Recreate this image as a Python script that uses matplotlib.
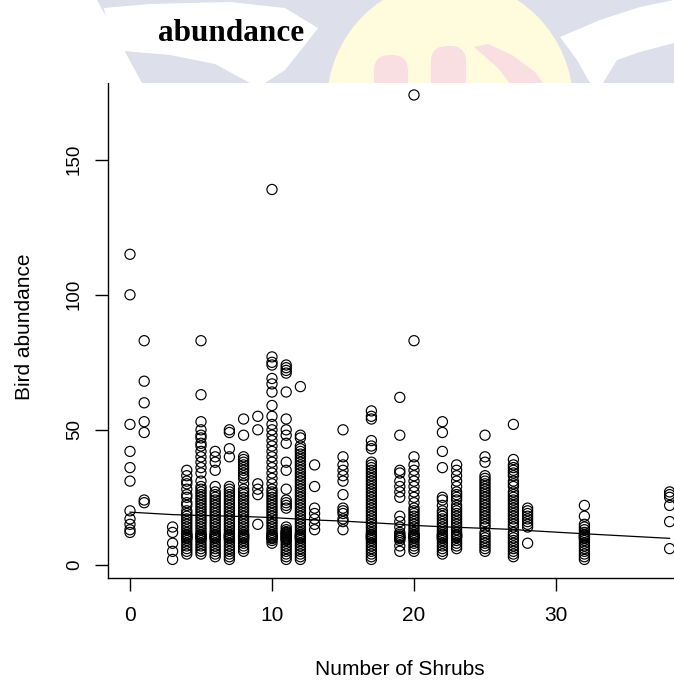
import matplotlib
matplotlib.use("Agg")
import matplotlib.pyplot as plt
from matplotlib import font_manager
from matplotlib.patches import Polygon, Circle, Rectangle, FancyBboxPatch

# jumlah semak (sumbu x) dan kelimpahan burung per kolom
shrub_levels = [0, 1, 3, 4, 5, 6, 7, 8, 9, 10, 11, 12, 13, 15, 17, 19, 20, 22, 23, 25, 27, 28, 32, 38]

ab_0 = [115, 100, 52, 42, 36, 31, 20, 17, 15, 13, 12]
ab_1 = [83, 68, 60, 53, 49, 24, 23]
ab_3 = [14, 12, 8, 5, 2]
ab_4 = [35, 33, 31, 30, 28, 26, 25, 23, 22, 20, 19, 18, 17, 16, 15, 14, 13, 12, 11.3, 11, 10.7, 10.3,
        10, 9.7, 9, 8, 7, 6, 5, 4]
ab_5 = [83, 63, 53, 50, 48, 47, 45, 44, 42, 40, 38, 36, 34, 31, 29, 28, 27, 26, 25, 24, 23, 22, 21, 20,
        19, 18, 17, 16, 15, 14, 13, 12, 11.3, 11, 10.7, 10.3, 10, 9.7, 9, 8, 7, 6, 5, 4]
ab_6 = [42, 40, 38, 35, 29, 27, 26, 25, 24, 23, 22, 21, 20, 19, 18, 17, 16, 15, 14, 13, 12, 11.3, 11,
        10.7, 10.3, 10, 9.7, 9, 8, 7, 6, 5, 4, 3]
ab_7 = [50, 49, 43, 40, 29, 28, 27, 26, 25, 24, 23, 22, 21, 20, 19, 18, 17, 16, 15, 14, 13, 12, 11.3, 11,
        10.7, 10.3, 10, 9.7, 9, 8, 7, 6, 5, 4, 3, 2]
ab_8 = [54, 48, 40, 39, 38, 37, 36, 35, 34, 33, 32, 30, 28, 27, 26, 25, 24, 23, 22, 21, 20, 19, 18, 17,
        16, 15, 14, 13, 12, 11.3, 11, 10.7, 10.3, 10, 9.7, 9, 8, 7, 6, 5]
ab_9 = [55, 50, 30, 28, 26, 15]
ab_10 = [139, 77, 75, 74, 69, 67, 64, 59, 55, 52, 50, 48, 46, 44, 42, 40, 38, 36, 34, 32, 30, 28, 27, 26,
         25, 24, 23, 22, 21, 20, 19, 18, 17, 16, 15, 14, 13, 12, 11.3, 11, 10.7, 10.3, 10, 9.7, 9, 8]
ab_11 = [74, 73, 72, 71, 64, 54, 50, 48, 45, 38, 35, 28, 24, 23, 22, 21, 14, 13, 12.3, 12, 11.7, 11.3, 11,
         10.7, 10.3, 10, 9.7, 9.3, 9, 8, 7, 6, 5, 4, 3, 2]
ab_12 = [66, 48, 47, 44, 43, 42, 41, 40, 39, 38, 37, 36, 35, 34, 33, 32, 31, 30, 29, 28, 27, 26, 25, 24,
         23, 22, 21, 20, 19, 18, 17, 16, 15, 14, 13, 12, 11.3, 11, 10.7, 10.3, 10, 9.7, 9, 8, 7, 6, 5, 4,
         3, 2]
ab_13 = [37, 29, 21, 19, 17, 15, 13]
ab_15 = [50, 40, 37, 35, 33, 31, 26, 21, 20, 19, 17, 16, 13]
ab_17 = [57, 55, 54, 46, 44, 43, 38, 37, 36, 35, 34, 33, 32, 31, 30, 29, 28, 27, 26, 25, 24, 23, 22, 21,
         20, 19, 18, 17, 16, 15, 14, 13, 12, 11.3, 11, 10.7, 10.3, 10, 9.7, 9, 8, 7, 6, 5, 4, 3, 2]
ab_19 = [62, 48, 35, 34, 31, 29, 27, 25, 18, 16, 14, 12, 11.3, 10.7, 10.3, 10, 9.7, 9, 7, 5]
ab_20 = [174, 83, 40, 37, 35, 33, 31, 29, 27, 25, 23, 21, 20, 19, 18, 17, 16, 15, 14, 13, 12, 11.3, 11,
         10.7, 10.3, 10, 9.7, 9, 8, 7, 6, 5]
ab_22 = [53, 49, 42, 36, 25, 24, 22, 20, 19, 18, 17, 16, 15, 14, 13, 12, 11.3, 11, 10.7, 10.3, 10, 9.7,
         9, 8, 7, 6, 5, 4]
ab_23 = [37, 35, 33, 31, 29, 27, 26, 25, 24, 22, 21, 20, 19, 18, 17, 16, 15, 14, 13, 12, 11.3, 11, 10.7,
         10.3, 10, 9, 8, 7, 6]
ab_25 = [48, 40, 38, 33, 32, 31, 30, 29, 28, 27, 26, 25, 24, 23, 22, 21, 20, 19, 18, 17, 16, 15, 14, 12,
         11, 10, 9, 8, 7, 6, 5]
ab_27 = [52, 39, 37, 36, 35, 34, 33, 31, 30, 29, 27, 26, 25, 24, 23, 22, 21, 20, 19, 18, 17, 16, 15, 14,
         12, 11, 10, 9, 8, 7, 6, 5, 4, 3]
ab_28 = [21, 20, 19, 18, 17, 16, 15, 14, 8]
ab_32 = [22, 18, 15, 14, 13, 12, 11.3, 11, 10.7, 10.3, 10, 9.7, 9, 8, 7, 6, 5, 4, 3, 2]
ab_38 = [27, 26, 25, 22, 16, 6]

abundance_cols = [ab_0, ab_1, ab_3, ab_4, ab_5, ab_6, ab_7, ab_8, ab_9, ab_10, ab_11, ab_12, ab_13,
                  ab_15, ab_17, ab_19, ab_20, ab_22, ab_23, ab_25, ab_27, ab_28, ab_32, ab_38]

# garis lowess (nilai dugaan di tiap x unik)
lowess_fit = [19.5, 19.2, 18.6, 18.4, 18.3, 18.2, 18.0, 17.9, 17.7, 17.5, 17.2, 16.9, 16.6, 16.2, 15.6,
              15.0, 14.6, 14.1, 13.9, 13.5, 13.1, 12.7, 11.5, 9.8]

x_ticks = [0, 10, 20, 30]
y_ticks = [0, 50, 100, 150]

# gabungkan kolom jadi titik x, y
xs, ys = [], []
for lvl, col in zip(shrub_levels, abundance_cols):
    xs += [lvl] * len(col)
    ys += col

names = {f.name for f in font_manager.fontManager.ttflist}
sans = "Liberation Sans" if "Liberation Sans" in names else "DejaVu Sans"
serif = "Liberation Serif" if "Liberation Serif" in names else "DejaVu Serif"

W, H = 674, 684
fig = plt.figure(figsize=(W / 100, H / 100), dpi=100)

# area plot (sisi kanan dan atas terpotong seperti pada gambar)
ax = fig.add_axes([108.4 / W, 106 / H, 582.8 / W, 501.6 / H])
ax.scatter(xs, ys, s=7.3 ** 2, facecolors="none", edgecolors="black", linewidths=0.85, zorder=3)
ax.plot(shrub_levels, lowess_fit, color="black", lw=0.9, zorder=4)
ax.set_xlim(-1.52, 39.52)
ax.set_ylim(-4.88, 180.88)
for s in ax.spines.values():
    s.set_linewidth(1.0)
ax.tick_params(axis="x", length=9.4, width=1.0, pad=11)
ax.tick_params(axis="y", length=9.4, width=1.0, pad=9)

ax.set_xticks(x_ticks, [str(v) for v in x_ticks], family=sans, size=15)
ax.set_yticks(y_ticks, [str(v) for v in y_ticks], family=sans, size=13.5, rotation=90, va="center")
ax.set_xlabel("Number of Shrubs", family=sans, size=15, labelpad=25)
ax.set_ylabel("Bird abundance", family=sans, size=15, labelpad=23)

# watermark dokumen di bagian atas
top = fig.add_axes([0, (H - 83) / H, 1, 83 / H])
top.set_xlim(0, W)
top.set_ylim(83, 0)
top.axis("off")
top.add_patch(Rectangle((0, 0), W, 83, fc="white", ec="none"))
top.add_patch(Polygon([(97, 0), (W, 0), (W, 83), (142, 83)], closed=True, fc="#dde0ea", ec="none"))
# pita putih kiri
top.add_patch(Polygon([(104, 8), (150, 4), (230, 2), (285, 8), (318, 28), (305, 45), (285, 70),
                       (265, 83), (250, 83), (215, 64), (170, 55), (112, 50)],
                      closed=True, fc="white", ec="none"))
# lingkaran kuning dan bentuk merah muda
top.add_patch(Circle((450, 103), 123, fc="#fffbdc", ec="none"))
top.add_patch(FancyBboxPatch((374, 55), 34, 60, boxstyle="round,pad=0,rounding_size=16",
                             fc="#f9dee2", ec="none"))
top.add_patch(FancyBboxPatch((431, 46), 35, 60, boxstyle="round,pad=0,rounding_size=16",
                             fc="#f9dee2", ec="none"))
top.add_patch(Polygon([(474, 47), (488, 44), (512, 55), (535, 72), (548, 90), (515, 90), (498, 68)],
                      closed=True, fc="#f9dee2", ec="none"))
# pita putih kanan
top.add_patch(Polygon([(560, 37), (600, 20), (640, 7), (W, 0), (W, 43), (640, 52), (617, 60),
                       (603, 83), (590, 83), (577, 60)], closed=True, fc="white", ec="none"))
top.text(158, 41, "abundance", family=serif, weight="bold", size=22.5, ha="left", va="baseline")

fig.savefig("out.png", dpi=100)
